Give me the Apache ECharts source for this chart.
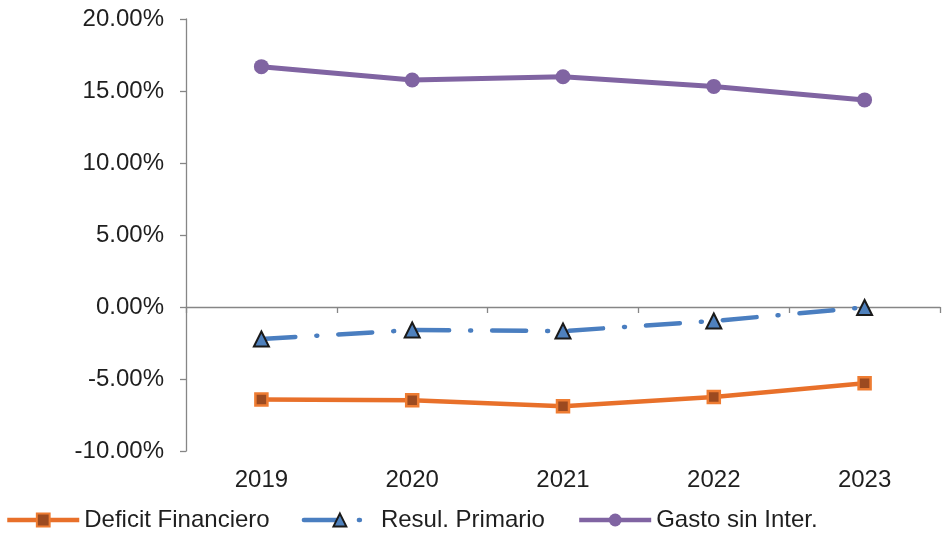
<!DOCTYPE html>
<html><head><meta charset="utf-8">
<script src="https://cdn.jsdelivr.net/npm/echarts@6/dist/echarts.min.js"></script>
<style>html,body{margin:0;padding:0;background:#fff}#c{width:943px;height:536px}</style>
</head><body><div id="c"></div>
<script>
const years = ['2019', '2020', '2021', '2022', '2023'];
const deficitFinanciero = [-6.42, -6.48, -6.90, -6.25, -5.30];
const resulPrimario = [-2.22, -1.60, -1.67, -0.97, -0.03];
const gastoSinInter = [16.69, 15.76, 15.99, 15.32, 14.38];
const seriesNames = ['Deficit Financiero', 'Resul. Primario', 'Gasto sin Inter.'];

const FONT = "'Liberation Sans', Arial, sans-serif";
const AXIS = '#868686';
const TXT = '#1f1f1f';

const chart = echarts.init(document.getElementById('c'), null, {renderer: 'canvas'});
chart.setOption({
  animation: false,
  backgroundColor: '#fff',
  grid: {left: 186, right: 3, top: 19, bottom: 85, containLabel: false},
  xAxis: [
    {
      type: 'category', data: years, boundaryGap: true,
      axisLine: {show: true, onZero: true, lineStyle: {color: AXIS, width: 1.3}},
      axisTick: {show: true, length: 6, interval: 0, lineStyle: {color: AXIS, width: 1.3}},
      axisLabel: {show: false},
      splitLine: {show: false}
    },
    {
      type: 'category', data: years, position: 'bottom', boundaryGap: true,
      axisLine: {show: false, onZero: false},
      axisTick: {show: false},
      axisLabel: {show: true, margin: 17, fontSize: 24, color: TXT, fontFamily: FONT},
      splitLine: {show: false}
    }
  ],
  yAxis: {
    type: 'value', min: -10, max: 20, interval: 5,
    axisLine: {show: true, lineStyle: {color: AXIS, width: 1.3}},
    axisTick: {show: true, length: 6, lineStyle: {color: AXIS, width: 1.3}},
    axisLabel: {margin: 22, fontSize: 24, color: TXT, fontFamily: FONT,
      formatter: v => v.toFixed(2) + '%'},
    splitLine: {show: false}
  },
  legend: {
    left: 5, top: 508, padding: 0,
    itemWidth: 72, itemHeight: 16, itemGap: 32,
    lineStyle: {width: 4.5},
    textStyle: {fontSize: 24, color: TXT, fontFamily: FONT},
    data: seriesNames
  },
  series: [
    {
      name: seriesNames[0], type: 'line', data: deficitFinanciero,
      symbol: 'rect', symbolSize: 12,
      lineStyle: {color: '#E8702A', width: 4.5},
      itemStyle: {color: '#9C4A20', borderColor: '#EE7C32', borderWidth: 2.5}
    },
    {
      name: seriesNames[1], type: 'line', data: resulPrimario,
      symbol: 'triangle', symbolSize: 15,
      lineStyle: {color: '#4A7EC0', width: 4.5, type: [34, 21, 1, 21], cap: 'round'},
      itemStyle: {color: '#4F81BD', borderColor: '#1a1a1a', borderWidth: 2}
    },
    {
      name: seriesNames[2], type: 'line', data: gastoSinInter,
      symbol: 'circle', symbolSize: 15,
      lineStyle: {color: '#8064A2', width: 5},
      itemStyle: {color: '#8064A2'}
    }
  ]
});
</script>
</body></html>
